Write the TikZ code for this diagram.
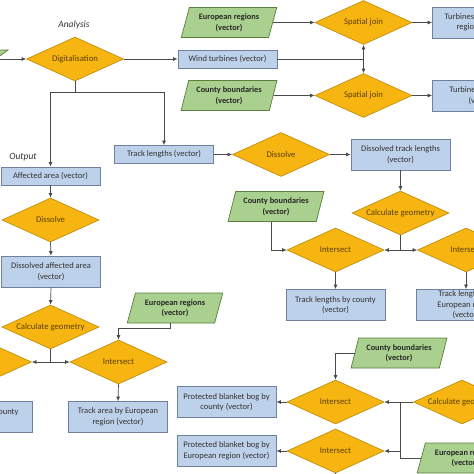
\documentclass[tikz,border=0pt]{standalone}
\usepackage{fontspec}
\setmainfont{Carlito}
\usetikzlibrary{shapes.geometric,arrows.meta,calc}
\definecolor{dfill}{HTML}{F6B511}
\definecolor{ddraw}{HTML}{C48E0C}
\definecolor{dtext}{HTML}{5E3F00}
\definecolor{gfill}{HTML}{A9D08E}
\definecolor{gdraw}{HTML}{587F3C}
\definecolor{bfill}{HTML}{BDD1EA}
\definecolor{bdraw}{HTML}{6F819C}
\definecolor{linec}{HTML}{4A4A4A}
\tikzset{
  proc/.style={diamond, aspect=2.2, draw=ddraw, fill=dfill, line width=0.7pt,
    minimum width=97pt, minimum height=44pt, inner sep=0pt,
    font=\fontsize{8.7}{10.5}\selectfont, text=dtext},
  data/.style={rectangle, draw=bdraw, fill=bfill, line width=0.8pt,
    minimum width=99pt, minimum height=18pt, inner sep=1pt, align=center,
    font=\fontsize{8.5}{10.5}\selectfont, text=black!80},
  tall/.style={minimum height=31pt},
  input/.style={trapezium, trapezium left angle=72, trapezium right angle=108,
    trapezium stretches=true, draw=gdraw, fill=gfill, line width=0.7pt,
    minimum width=96pt, minimum height=30pt, inner sep=1pt, align=center,
    font=\bfseries\fontsize{8.3}{10.5}\selectfont, text=black!85},
  ln/.style={draw=linec, line width=0.7pt},
  arr/.style={ln, -{Latex[length=4.5pt,width=4pt]}},
  lbl/.style={font=\itshape\fontsize{9.5}{11}\selectfont, text=black!80}
}
\begin{document}
\begin{tikzpicture}[x=1pt,y=-1pt]
\useasboundingbox (0,0) rectangle (474,474);
\clip (0,0) rectangle (474,474);
\fill[white] (0,0) rectangle (474,474);

% nodes
\node[input, minimum height=14pt] (in0) at (-40,57) {};
\node[proc] (dig) at (75,59) {Digitalisation};
\node[lbl] (lan) at (74,25) {Analysis};
\node[data] (wt) at (227.5,59) {Wind turbines (vector)};
\node[input] (eu1) at (229,22.5) {European regions\\(vector)};
\node[input] (cb1) at (229,95.5) {County boundaries\\(vector)};
\node[proc] (sj1) at (363.5,22.5) {Spatial join};
\node[proc] (sj2) at (363.5,95.5) {Spatial join};
\node[data, tall] (tb1) at (482,22.5) {Turbines by European\\region (vector)};
\node[data, tall] (tb2) at (482,95.5) {Turbines by county\\(vector)};
\node[data] (tl) at (164,154.5) {Track lengths (vector)};
\node[lbl] (lout) at (23,157) {Output};
\node[data] (aff) at (50.5,176) {Affected area (vector)};
\node[proc] (dis1) at (50.5,220) {Dissolve};
\node[data, tall] (daa) at (51,271.5) {Dissolved affected area\\(vector)};
\node[proc] (cg1) at (50.5,327) {Calculate geometry};
\node[input] (eu2) at (175,308) {European regions\\(vector)};
\node[proc] (int0) at (-17,362) {Intersect};
\node[proc] (int1) at (118.5,362) {Intersect};
\node[data, tall] (tac) at (-17,417) {Track area by county\\(vector)};
\node[data, tall] (tae) at (118,417) {Track area by European\\region (vector)};
\node[proc] (dis2) at (281,154.5) {Dissolve};
\node[data, tall] (dtl) at (400.5,154.5) {Dissolved track lengths\\(vector)};
\node[proc] (cg2) at (400.5,213) {Calculate geometry};
\node[input] (cb2) at (276,206.5) {County boundaries\\(vector)};
\node[proc] (int2) at (335.5,250) {Intersect};
\node[proc] (int3) at (466,250) {Intersect};
\node[data, tall] (tlc) at (335.5,305) {Track lengths by county\\(vector)};
\node[data, tall, inner sep=0pt] (tle) at (466,305) {Track lengths by\\European region\\(vector)};
\node[input] (cb3) at (399,353) {County boundaries\\(vector)};
\node[proc] (int4) at (335.5,402) {Intersect};
\node[proc] (int5) at (335.5,451) {Intersect};
\node[proc] (cg3) at (462,402) {Calculate geometry};
\node[input] (eu3) at (465,458) {European regions\\(vector)};
\node[data, tall] (pbc) at (226.5,402) {Protected blanket bog by\\county (vector)};
\node[data, tall] (pbe) at (226.5,451) {Protected blanket bog by\\European region (vector)};

% coordinates
\coordinate (j1) at (363.5,59);
\coordinate (j2) at (75,92);
\coordinate (j3) at (50.5,362);
\coordinate (j4) at (400.5,250);
\coordinate (j5) at (400,402);
\coordinate (j6) at (400,451);
\coordinate (out5) at (335.5,495);

% connectors
\draw[arr] (in0.east |- dig.west) -- (dig.west);
\draw[arr] (dig.east) -- (wt.west);
\draw[arr] (eu1.east) -- (sj1.west);
\draw[arr] (cb1.east) -- (sj2.west);
\draw[arr] (sj1.east) -- (tb1.west);
\draw[arr] (sj2.east) -- (tb2.west);
\draw[ln] (wt.east) -- (j1);
\draw[arr] (j1) -- (sj1.south);
\draw[arr] (j1) -- (sj2.north);
\draw[ln] (dig.south) -- (j2);
\draw[arr] (j2) -| (aff.north);
\draw[arr] (j2) -| (tl.north);
\draw[arr] (tl.east) -- (dis2.west);
\draw[arr] (dis2.east) -- (dtl.west);
\draw[arr] (aff.south) -- (dis1.north);
\draw[arr] (dis1.south) -- (daa.north);
\draw[arr] (daa.south) -- (cg1.north);
\draw[ln] (cg1.south) -- (j3);
\draw[arr] (j3) -- (int0.east);
\draw[arr] (j3) -- (int1.west);
\draw[arr] ($(eu2.south)+(-5,0)$) -- ++(0,5) -| (int1.north);
\draw[arr] (int1.south) -- (tae.north);
\draw[arr] (int0.south) -- (tac.north);
\draw[arr] (dtl.south) -- (cg2.north);
\draw[ln] (cg2.south) -- (j4);
\draw[arr] (j4) -- (int2.east);
\draw[arr] (j4) -- (int3.west);
\draw[arr] ($(cb2.south)+(-5,0)$) |- (int2.west);
\draw[arr] (int2.south) -- (tlc.north);
\draw[arr] (int3.south) -- (tle.north);
\draw[arr] (cb3.west) -| (int4.north);
\draw[ln] (cg3.west) -- (j5);
\draw[arr] (j5) -- (int4.east);
\draw[ln] (j5) |- (eu3.west);
\draw[arr] (j6) -- (int5.east);
\draw[arr] (int4.west) -- (pbc.east);
\draw[arr] (int5.west) -- (pbe.east);
\draw[arr] (int5.south) -- (out5);
\end{tikzpicture}
\end{document}
